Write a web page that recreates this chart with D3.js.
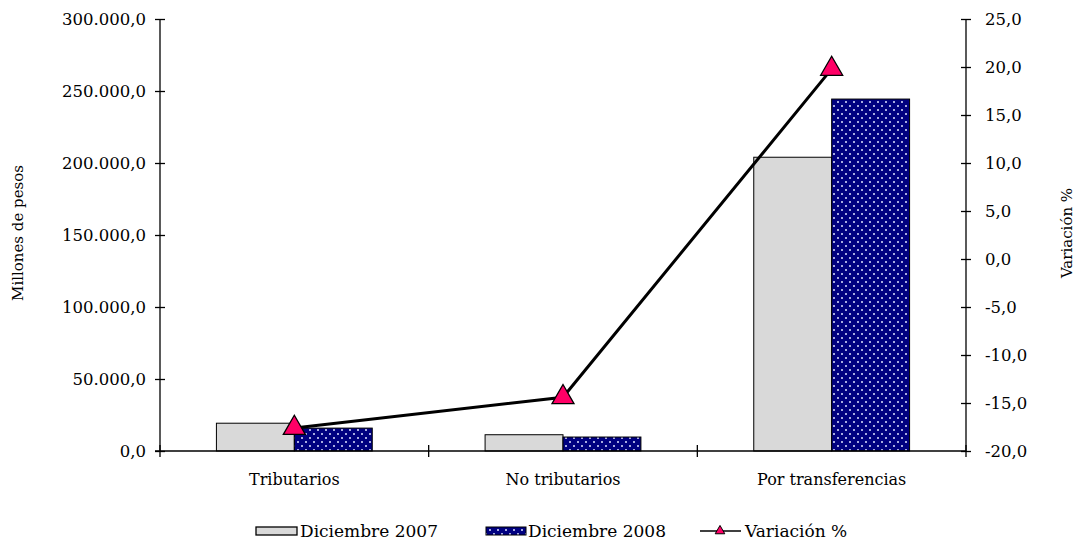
<!DOCTYPE html>
<html><head><meta charset="utf-8">
<script src="https://cdn.jsdelivr.net/npm/d3@7"></script>
<style>body{margin:0;background:#fff}svg{display:block}</style>
</head><body><svg id="c" width="1076" height="544"></svg>
<script>
const categories = ["Tributarios", "No tributarios", "Por transferencias"];
const dic2007 = [19300, 11300, 204000];
const dic2008 = [15900, 9700, 244400];
const variacion = [-17.6, -14.4, 19.8];
const leftTicks = [0, 50000, 100000, 150000, 200000, 250000, 300000];
const rightTicks = [-20, -15, -10, -5, 0, 5, 10, 15, 20, 25];
const seriesNames = ["Diciembre 2007", "Diciembre 2008", "Variación %"];

const svg = d3.select("#c");
const font = "DejaVu Serif";
const L = 160, R = 966, T = 19, B = 451;
const fmt = v => {
  const s = d3.format(",.1f")(v);
  return s.replace(/\u2212/g, "-").replace(/,/g, "X").replace(/\./g, ",").replace(/X/g, ".");
};
const x = d3.scaleBand().domain(categories).range([L, R]).paddingInner(0).paddingOuter(0);
const y = d3.scaleLinear().domain([0, 300000]).range([B, T]);
const y2 = d3.scaleLinear().domain([-20, 25]).range([B, T]);

const defs = svg.append("defs");
const pat = defs.append("pattern").attr("id", "dots").attr("patternUnits", "userSpaceOnUse")
  .attr("width", 8).attr("height", 8);
pat.append("rect").attr("width", 8).attr("height", 8).attr("fill", "#000080");
pat.append("circle").attr("cx", 2).attr("cy", 2).attr("r", 1).attr("fill", "#dfe3ff");
pat.append("circle").attr("cx", 6).attr("cy", 6).attr("r", 1).attr("fill", "#dfe3ff");

const bw = x.bandwidth() * 0.29;
const g = svg.append("g");
categories.forEach((c, i) => {
  const cx = x(c) + x.bandwidth() / 2;
  g.append("rect").attr("x", cx - bw).attr("y", y(dic2007[i])).attr("width", bw)
    .attr("height", y(0) - y(dic2007[i])).attr("fill", "#d9d9d9").attr("stroke", "#000").attr("stroke-width", 1);
  g.append("rect").attr("x", cx).attr("y", y(dic2008[i])).attr("width", bw)
    .attr("height", y(0) - y(dic2008[i])).attr("fill", "url(#dots)").attr("stroke", "#000").attr("stroke-width", 1);
});

// axes
const axL = svg.append("g").attr("transform", `translate(${L},0)`)
  .call(d3.axisLeft(y).tickValues(leftTicks).tickFormat(fmt).tickSize(5).tickPadding(9));
const axR = svg.append("g").attr("transform", `translate(${R},0)`)
  .call(d3.axisRight(y2).tickValues(rightTicks).tickFormat(fmt).tickSize(5).tickPadding(14));
const axB = svg.append("g").attr("transform", `translate(0,${B})`)
  .call(d3.axisBottom(x).tickSize(0).tickPadding(23));
[axL, axR, axB].forEach(a => {
  a.select(".domain").attr("stroke", "#000").attr("stroke-width", 1.3);
  a.selectAll("line").attr("stroke", "#000").attr("stroke-width", 1.3);
  a.selectAll("text").attr("font-family", font).attr("font-size", 16.5).attr("fill", "#000");
});
axB.selectAll("text").attr("font-size", 16);
axL.select(".domain").attr("d", `M0,${T}V${B}`);
axR.select(".domain").attr("d", `M0,${T}V${B}`);
axB.select(".domain").attr("d", `M${L - 5},0H${R}`);
// cross ticks
axL.selectAll(".tick line").attr("x1", 5).attr("x2", -5);
axR.selectAll(".tick line").attr("x1", -5).attr("x2", 5);
// category boundary ticks
const bounds = categories.map(c => x(c)).concat([R]);
svg.append("g").selectAll("line").data(bounds).join("line")
  .attr("x1", d => d).attr("x2", d => d).attr("y1", B - 6).attr("y2", B + 6)
  .attr("stroke", "#000").attr("stroke-width", 1.3);

// axis titles
svg.append("text").attr("transform", `translate(23,${(T + B) / 2 - 2}) rotate(-90)`)
  .attr("text-anchor", "middle").attr("font-family", font).attr("font-size", 15).text("Millones de pesos");
svg.append("text").attr("transform", `translate(1072,${(T + B) / 2 - 2}) rotate(-90)`)
  .attr("text-anchor", "middle").attr("font-family", font).attr("font-size", 15).text("Variación %");

// line
const pts = categories.map((c, i) => [x(c) + x.bandwidth() / 2, y2(variacion[i])]);
svg.append("path").attr("d", d3.line()(pts)).attr("fill", "none").attr("stroke", "#000").attr("stroke-width", 3);
const tri = d3.symbol().type(d3.symbolTriangle).size(210);
svg.append("g").selectAll("path").data(pts).join("path")
  .attr("transform", d => `translate(${d[0]},${d[1]})`).attr("d", tri)
  .attr("fill", "#ff0066").attr("stroke", "#000").attr("stroke-width", 1.3);

// legend
const lg = svg.append("g");
const ly = 531;
lg.append("rect").attr("x", 256).attr("y", ly - 4).attr("width", 41).attr("height", 8)
  .attr("fill", "#d9d9d9").attr("stroke", "#000").attr("stroke-width", 1.3);
lg.append("text").attr("x", 300).attr("y", ly + 6).attr("font-family", font).attr("font-size", 17).text(seriesNames[0]);
lg.append("rect").attr("x", 486).attr("y", ly - 4).attr("width", 40).attr("height", 8)
  .attr("fill", "url(#dots)").attr("stroke", "#000").attr("stroke-width", 1);
lg.append("text").attr("x", 528).attr("y", ly + 6).attr("font-family", font).attr("font-size", 17).text(seriesNames[1]);
lg.append("line").attr("x1", 700).attr("x2", 741).attr("y1", ly).attr("y2", ly).attr("stroke", "#000").attr("stroke-width", 1.3);
lg.append("path").attr("transform", `translate(720,${ly})`).attr("d", d3.symbol().type(d3.symbolTriangle).size(40))
  .attr("fill", "#ff0066").attr("stroke", "#000").attr("stroke-width", 1);
lg.append("text").attr("x", 745).attr("y", ly + 6).attr("font-family", font).attr("font-size", 17).text(seriesNames[2]);
</script></body></html>
